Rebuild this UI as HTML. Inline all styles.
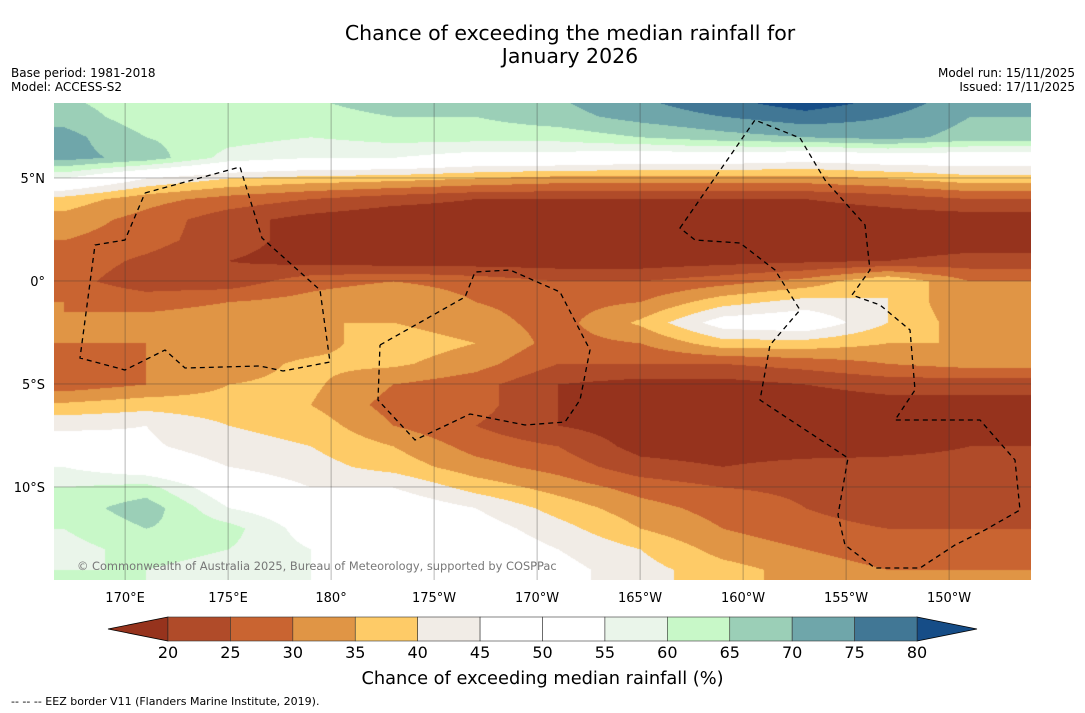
<!DOCTYPE html>
<html><head><meta charset="utf-8"><style>
body{margin:0;background:#fff;width:1085px;height:713px;overflow:hidden;position:relative;font-family:"DejaVu Sans","Liberation Sans",sans-serif}
.t{position:absolute;color:#000}
</style></head><body>
<div class="t" style="left:0;width:1140px;top:22px;text-align:center;font-size:20.5px;line-height:23px">Chance of exceeding the median rainfall for<br>January 2026</div>
<div class="t" style="left:11px;top:66px;font-size:12px;line-height:14px">Base period: 1981-2018<br>Model: ACCESS-S2</div>
<div class="t" style="right:10px;top:66px;font-size:12px;line-height:14px;text-align:right">Model run: 15/11/2025<br>Issued: 17/11/2025</div>
<canvas id="map" width="977" height="477" style="position:absolute;left:54px;top:103px"></canvas>
<svg id="ov" width="1085" height="713" style="position:absolute;left:0;top:0"></svg>
<div class="t" style="left:77px;top:559px;font-size:11.4px;color:#777">© Commonwealth of Australia 2025, Bureau of Meteorology, supported by COSPPac</div>
<div class="t" style="left:0;width:1085px;text-align:center;top:668px;font-size:17.8px">Chance of exceeding median rainfall (%)</div>
<div class="t" style="left:11px;top:695px;font-size:11px">--  --  -- EEZ border V11 (Flanders Marine Institute, 2019).</div>
<script>
const lons=[167,171,175,179,183,187,191,195,199,203,207,211];
const lats=[9,8,7,6,5,4,3,2,1,0,-1,-2,-3,-4,-5,-6,-7,-8,-9,-10,-11,-12,-13,-14,-15];
const vals=[
[65,62,62,65,70,68,70,75,80,85,80,72],
[68,62,60,62,65,65,68,72,75,78,75,70],
[72,65,62,60,62,62,62,65,68,70,72,68],
[72,68,58,55,55,52,52,50,50,48,50,50],
[55,45,40,38,37,35,33,33,33,33,35,38],
[38,32,28,25,22,20,20,20,20,20,22,25],
[33,28,22,18,16,16,16,16,16,16,17,17],
[30,27,22,18,16,15,15,15,15,15,16,17],
[28,24,20,18,17,17,17,17,18,19,20,22],
[27,22,22,28,30,28,25,25,28,32,40,30],
[30,28,30,32,35,30,28,30,38,42,40,30],
[30,32,33,35,35,32,28,36,48,50,40,32],
[30,30,32,33,38,35,28,30,38,38,35,35],
[28,30,33,36,36,32,25,25,25,27,30,32],
[27,30,35,36,30,27,20,18,18,20,22,22],
[36,38,37,35,28,27,20,17,17,17,18,18],
[44,45,40,38,30,25,20,17,17,17,17,17],
[48,46,42,40,35,28,25,18,17,17,18,20],
[55,50,45,42,38,32,28,22,20,22,22,22],
[60,62,50,45,45,38,33,28,25,24,22,22],
[62,68,55,50,50,45,38,32,28,25,22,22],
[60,65,62,52,50,48,42,35,30,27,25,25],
[58,62,60,55,52,50,45,40,33,30,27,27],
[60,60,58,55,52,50,47,42,37,33,30,30],
[60,60,58,55,52,50,47,42,37,33,30,30]];
const binEdges=[20,25,30,35,40,45,50,55,60,65,70,75,80];
const binColors=["#96331d","#b04b29","#c96431","#e09545","#fecb67","#f1ece6","#ffffff","#ffffff","#eaf5ea","#c8f8c8","#9bcfb7","#6fa6aa","#417795","#164d87"];
const tickLons=[170,175,180,185,190,195,200,205,210];
const tickLonLabels=["170°E","175°E","180°","175°W","170°W","165°W","160°W","155°W","150°W"];
const tickLats=[5,0,-5,-10];
const tickLatLabels=["5°N","0°","5°S","10°S"];
const L=54,T=103,W=977,H=477,LON0=166.55,LAT0=8.64,PPD=20.6;
const xOf=lo=>L+(lo-LON0)*PPD, yOf=la=>T+(LAT0-la)*PPD;
function col(v){let i=0;while(i<binEdges.length&&v>=binEdges[i])i++;return binColors[i];}
function rgb(h){return[parseInt(h.substr(1,2),16),parseInt(h.substr(3,2),16),parseInt(h.substr(5,2),16)];}
const cv=document.getElementById('map'),cx=cv.getContext('2d'),img=cx.createImageData(W,H);
const cache={};
for(let py=0;py<H;py++){const la=LAT0-py/PPD;let r=0;while(r<lats.length-2&&lats[r+1]>la)r++;let fr=(lats[r]-la)/(lats[r]-lats[r+1]);fr=Math.max(0,Math.min(1,fr));
 for(let px=0;px<W;px++){const lo=LON0+px/PPD;let c=0;while(c<lons.length-2&&lons[c+1]<lo)c++;let fc=(lo-lons[c])/(lons[c+1]-lons[c]);fc=Math.max(0,Math.min(1,fc));
  const v=(vals[r][c]*(1-fc)+vals[r][c+1]*fc)*(1-fr)+(vals[r+1][c]*(1-fc)+vals[r+1][c+1]*fc)*fr;
  const h=col(v);const k=cache[h]||(cache[h]=rgb(h));const o=(py*W+px)*4;img.data[o]=k[0];img.data[o+1]=k[1];img.data[o+2]=k[2];img.data[o+3]=255;}}
cx.putImageData(img,0,0);
const ov=document.getElementById('ov'),NS="http://www.w3.org/2000/svg";
function mk(t,a,txt){const e=document.createElementNS(NS,t);for(const k in a)e.setAttribute(k,a[k]);if(txt!==undefined)e.textContent=txt;ov.appendChild(e);return e;}
const FF='DejaVu Sans, Liberation Sans, sans-serif';
tickLons.forEach((lo,i)=>{const x=xOf(lo);
 const g=mk('line',{x1:x,x2:x,y1:T,y2:T+H,stroke:'#333','stroke-width':0.5,'stroke-opacity':0.7});
 
 const t=mk('text',{x:x,y:602,'text-anchor':'middle','font-size':13,'font-family':FF},tickLonLabels[i]);
 });
tickLats.forEach((la,i)=>{const y=yOf(la);
 const g=mk('line',{x1:L,x2:L+W,y1:y,y2:y,stroke:'#333','stroke-width':0.5,'stroke-opacity':0.7});
 
 const t=mk('text',{x:45,y:y+5,'text-anchor':'end','font-size':13,'font-family':FF},tickLatLabels[i]);
 });
const eez=["M145,193 L240,167 L262,238 L320,290 L330,362 L283,371 L260,366 L185,368 L165,350 L125,370 L80,358 L95,245 L125,240 L145,193",
"M380,345 L465,297 L475,272 L510,270 L560,292 L590,350 L580,400 L565,422 L525,425 L470,414 L415,440 L378,400 L380,345",
"M680,228 L755,120 L800,138 L825,180 L865,225 L870,270 L852,295 L880,305 L910,330 L915,390 L895,420 L935,420 L980,420 L1015,460 L1020,510 L985,530 L955,545 L920,568 L875,568 L845,545 L838,515 L848,458 L760,400 L770,345 L800,310 L775,270 L740,243 L695,240 Z"];
eez.forEach(d=>{const p=mk('path',{d:d,fill:'none',stroke:'#000','stroke-width':1.3,'stroke-dasharray':'5,4'});});
const cbL=168,cbR=917,cbT=617,cbB=641,n=binEdges.length-1,bw=(cbR-cbL)/n;
const lt=mk('path',{d:`M${cbL},${cbT} L108,${(cbT+cbB)/2} L${cbL},${cbB} Z`,fill:binColors[0],stroke:'#000','stroke-width':0.8});

const rt=mk('path',{d:`M${cbR},${cbT} L977,${(cbT+cbB)/2} L${cbR},${cbB} Z`,fill:binColors[binColors.length-1],stroke:'#000','stroke-width':0.8});

for(let i=0;i<n;i++){const r=mk('rect',{x:cbL+i*bw,y:cbT,width:bw,height:cbB-cbT,fill:binColors[i+1],stroke:'#333','stroke-width':0.6});
 }
binEdges.forEach((e,i)=>{const t=mk('text',{x:cbL+i*bw,y:658,'text-anchor':'middle','font-size':16,'font-family':FF},String(e));
 });
</script>
</body></html>
